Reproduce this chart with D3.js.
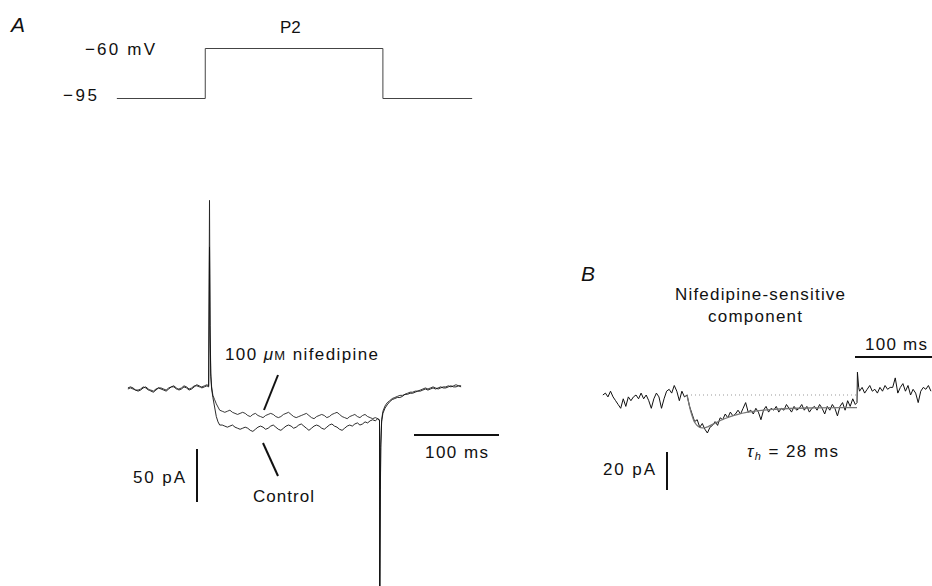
<!DOCTYPE html>
<html><head><meta charset="utf-8">
<script src="https://cdn.jsdelivr.net/npm/d3@7/dist/d3.min.js"></script>
<style>
html,body{margin:0;padding:0;background:#fff;}
svg{display:block;}
text{font-family:"Liberation Sans",Arial,sans-serif;fill:#111;}
</style></head>
<body>
<svg id="chart" width="932" height="586"></svg>
<script>
// ---------- DATA ----------
// Panel A voltage protocol (ms, mV)
const voltT = [-9, 95, 95, 304, 304, 409];
const voltV = [-95, -95, -60, -60, -95, -95];

// Panel A currents (pA); noisy segments on a 3 ms sample clock
const aPreStart = 4, aPlatStart = 115, aPostStart = 315, aDt = 3;
const ctrlPre = [1,2,1,-1,-2,-1,1,2,0,-2,-3,-1,1,0,-1,-2,0,2,3,1,-1,0,2,1,-1,0,2,4,3,1,2,3];
const nifPre  = [0,1,0,-1,-1,0,2,1,-1,-1,-2,0,1,1,0,-1,1,2,2,0,0,1,3,2,0,1,3,3,2,2,3,4];
const ctrlOn  = [[99,2],[100,134],[100.7,50],[101.5,12],[102.5,0],[104,-8],[106,-17],[108,-26],[110,-31],[112,-34]];
const nifOn   = [[99,3],[100,178],[100.7,60],[101.5,15],[102.5,2],[104,-6],[106,-10],[108,-14],[110,-17],[112,-20]];
const ctrlPlat = [-34,-35,-36,-35,-34,-36,-37,-38,-37,-36,-37,-39,-40,-38,-36,-35,-36,-38,-37,-35,
  -34,-36,-38,-39,-37,-35,-34,-35,-37,-36,-34,-33,-35,-37,-39,-37,-35,-34,-35,-37,
  -38,-36,-34,-33,-35,-36,-38,-39,-37,-35,-34,-35,-33,-32,-34,-33,-31,-32,-30,-29,-30,-28];
const nifPlat = [-21,-22,-21,-20,-22,-23,-24,-23,-22,-23,-25,-26,-24,-23,-25,-26,-27,-25,-24,-23,
  -24,-26,-27,-26,-24,-23,-22,-24,-26,-27,-26,-25,-24,-23,-25,-27,-28,-26,-25,-24,
  -25,-27,-26,-24,-23,-22,-24,-26,-27,-28,-26,-25,-24,-26,-27,-25,-24,-26,-27,-28,-27,-28];
const ctrlOff = [[300,-30],[300.3,-186],[301,-100],[301.5,-55],[302.5,-31],[304,-23],[306.5,-18],[309,-15],[312,-12]];
const nifOff  = [[300,-29],[300.3,-190],[301,-95],[301.5,-52],[302.5,-29],[304,-21],[306.5,-16],[309,-13],[312,-11]];
const ctrlPost = [-10,-9,-8,-8,-7,-5,-5,-4,-4,-3,-2,-2,-1,0,-1,0,1,0,1,2,1,1,2,3,2,2,3,3];
const nifPost  = [-9,-8,-7,-6,-6,-5,-4,-3,-3,-2,-2,-1,0,1,0,1,2,1,0,1,2,2,3,2,3,4,3,2];

// Panel B nifedipine-sensitive component (pA)
const bPreStart = 1, bStepStart = 100, bPostStart = 303, bDt = 3;
const bPre  = [0,1,-1,2,-1,-3,-5,-7,-2,-6,-1,-3,-1,0,-2,1,-2,0,-3,-7,-2,1,-1,-7,-2,2,3,1,5,2,-3,2,-1];
const bStep = [0,-6,-10,-14,-13,-17,-15,-18,-20,-17,-16,-14,-16,-12,-13,-10,-12,-9,-11,-10,
  -8,-10,-7,-4,-9,-8,-10,-7,-9,-13,-8,-6,-9,-7,-8,-6,-9,-7,-8,-5,
  -7,-9,-6,-8,-7,-5,-8,-6,-9,-7,-6,-8,-5,-7,-10,-6,-8,-5,-7,-11,-6,-4,-8,-3,-6,-2,-5];
const bOff  = [[300,-4],[300.5,12],[302,4]];
const bPost = [2,4,1,3,5,2,3,1,4,2,5,3,4,4,9,1,4,6,2,5,0,3,1,-4,2,4,3,5,2];
const bFit  = [[100,0],[102,-4],[104,-8],[106,-11],[108,-13.5],[110,-15],[113,-16.5],[116,-17.2],[120,-17.3],
  [125,-16.6],[130,-15.5],[135,-14.4],[140,-13.3],[150,-11.5],[160,-10.2],[170,-9.2],[180,-8.5],
  [200,-7.6],[220,-7.1],[250,-6.8],[300,-6.6]];
const bZero = [100, 300];

// scale bar values
const barA = {ms: 100, pA: 50};
const barB = {ms: 100, pA: 20};

// ---------- HELPERS ----------
const grid = (start, vals) => vals.map((v, i) => [start + i * aDt, v]);
const gridB = (start, vals) => vals.map((v, i) => [start + i * bDt, v]);
const svg = d3.select("#chart");
function label(x, y, size, len, str) {
  const t = svg.append("text").attr("x", x).attr("y", y).attr("font-size", size);
  if (len) t.attr("textLength", len).attr("lengthAdjust", "spacing");
  t.text(str);
  return t;
}

// ---------- PANEL A ----------
const xA = d3.scaleLinear().domain([0, 100]).range([124.5, 209.5]);
const yA = d3.scaleLinear().domain([0, 50]).range([389, 336]);
const yV = d3.scaleLinear().domain([-95, -60]).range([98.5, 48.5]);

const lineA = d3.line().x(d => xA(d[0])).y(d => yA(d[1]));
const lineV = d3.line().x((d, i) => xA(voltT[i])).y((d, i) => yV(voltV[i]));

svg.append("path").attr("d", lineV(voltT)).attr("fill", "none")
  .attr("stroke", "#444").attr("stroke-width", 1);

const ctrl = [].concat(grid(aPreStart, ctrlPre), ctrlOn, grid(aPlatStart, ctrlPlat), ctrlOff, grid(aPostStart, ctrlPost));
const nif  = [].concat(grid(aPreStart, nifPre), nifOn, grid(aPlatStart, nifPlat), nifOff, grid(aPostStart, nifPost));

svg.append("path").attr("d", lineA(nif)).attr("fill", "none")
  .attr("stroke", "#222").attr("stroke-width", 0.9);
svg.append("path").attr("d", lineA(ctrl)).attr("fill", "none")
  .attr("stroke", "#111").attr("stroke-width", 0.9);

svg.append("text").attr("x", 11).attr("y", 32).attr("font-size", 21)
  .attr("font-style", "italic").text("A");
label(85, 55, 17, 70, "\u221260 mV");
label(63, 101, 17, 34, "\u221295");
label(280, 33, 17, null, "P2");

const nifT = svg.append("text").attr("x", 225).attr("y", 360).attr("font-size", 17)
  .attr("textLength", 153).attr("lengthAdjust", "spacing");
nifT.append("tspan").text("100 ");
nifT.append("tspan").attr("font-style", "italic").text("\u03bc");
nifT.append("tspan").attr("font-size", 13).text("M");
nifT.append("tspan").text(" nifedipine");

label(253, 502, 17, 61, "Control");
label(133, 483, 17, 52, "50 pA");
label(425, 458, 17, 63, "100 ms");

svg.append("line").attr("x1", 278).attr("y1", 375).attr("x2", 264).attr("y2", 410)
  .attr("stroke", "#111").attr("stroke-width", 2);
svg.append("line").attr("x1", 263).attr("y1", 443).attr("x2", 278).attr("y2", 476)
  .attr("stroke", "#111").attr("stroke-width", 2);

const aBarX0 = 414, aBarY = 435;
svg.append("line").attr("x1", aBarX0).attr("x2", aBarX0 + xA(barA.ms) - xA(0))
  .attr("y1", aBarY).attr("y2", aBarY).attr("stroke", "#111").attr("stroke-width", 2);
const aVBarX = 197, aVBarY1 = 502;
svg.append("line").attr("x1", aVBarX).attr("x2", aVBarX)
  .attr("y1", aVBarY1).attr("y2", aVBarY1 - (yA(0) - yA(barA.pA)))
  .attr("stroke", "#111").attr("stroke-width", 2);

// ---------- PANEL B ----------
const xB = d3.scaleLinear().domain([0, 100]).range([602, 687]);
const yB = d3.scaleLinear().domain([0, 20]).range([395, 357]);
const lineB = d3.line().x(d => xB(d[0])).y(d => yB(d[1]));

svg.append("line").attr("x1", xB(bZero[0])).attr("x2", xB(bZero[1]))
  .attr("y1", yB(0)).attr("y2", yB(0))
  .attr("stroke", "#999").attr("stroke-width", 1).attr("stroke-dasharray", "1,3");

const bData = [].concat(gridB(bPreStart, bPre), gridB(bStepStart, bStep), bOff, gridB(bPostStart, bPost));
svg.append("path").attr("d", lineB(bData)).attr("fill", "none")
  .attr("stroke", "#111").attr("stroke-width", 1);
svg.append("path").attr("d", d3.line().curve(d3.curveMonotoneX).x(d => xB(d[0])).y(d => yB(d[1]))(bFit))
  .attr("fill", "none").attr("stroke", "#777").attr("stroke-width", 1.3);

svg.append("text").attr("x", 581).attr("y", 281).attr("font-size", 21)
  .attr("font-style", "italic").text("B");
label(675, 300, 17, 170, "Nifedipine-sensitive");
label(708, 322, 17, 94, "component");
label(865, 350, 17, 62, "100 ms");
label(603, 475, 17, 52, "20 pA");

const tauT = svg.append("text").attr("x", 747).attr("y", 457).attr("font-size", 17)
  .attr("textLength", 91).attr("lengthAdjust", "spacing");
tauT.append("tspan").attr("font-style", "italic").text("\u03c4");
tauT.append("tspan").attr("font-style", "italic").attr("font-size", 11).attr("dy", 3).text("h");
tauT.append("tspan").attr("dy", -3).text(" = 28 ms");

const bBarX0 = 855, bBarY = 357;
svg.append("line").attr("x1", bBarX0).attr("x2", bBarX0 + xB(barB.ms) - xB(0))
  .attr("y1", bBarY).attr("y2", bBarY).attr("stroke", "#111").attr("stroke-width", 2);
const bVBarX = 667, bVBarY1 = 490;
svg.append("line").attr("x1", bVBarX).attr("x2", bVBarX)
  .attr("y1", bVBarY1).attr("y2", bVBarY1 - (yB(0) - yB(barB.pA)))
  .attr("stroke", "#111").attr("stroke-width", 2);
</script>
</body></html>
